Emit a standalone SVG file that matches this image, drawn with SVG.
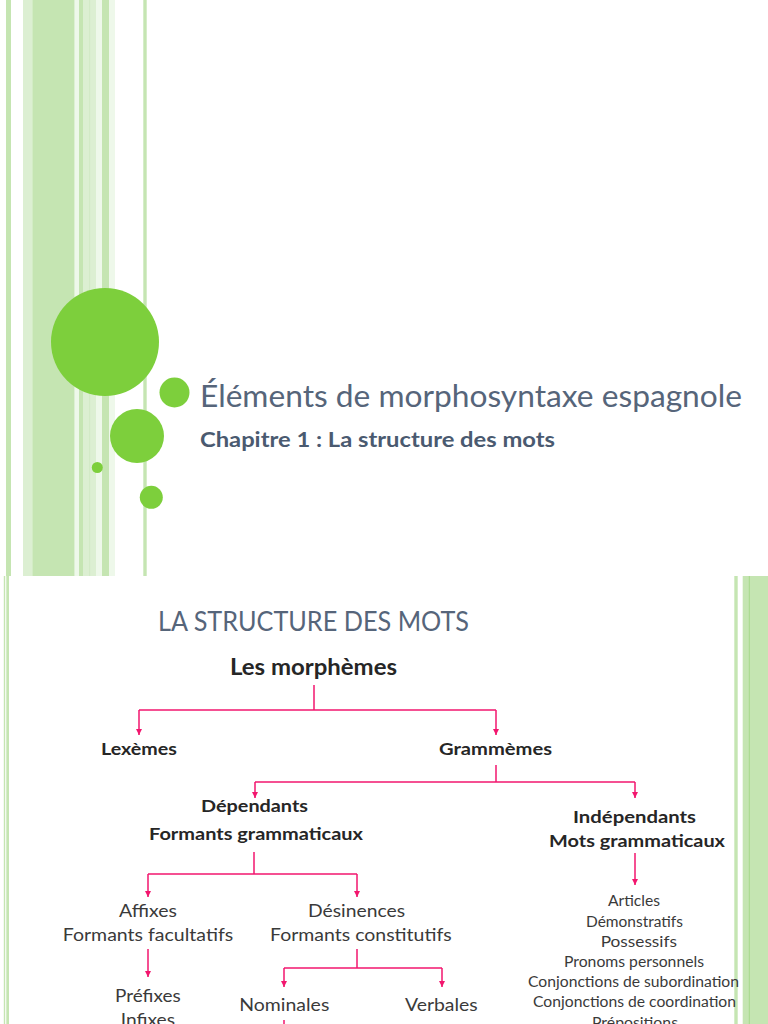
<svg xmlns="http://www.w3.org/2000/svg" width="768" height="1024" viewBox="0 0 768 1024">
<defs>
<style>
.g1{fill:#c5e5b2}
.g2{fill:#dcefd2}
.g3{fill:#eef8ea}
.dot{fill:#7dcf3c}
.title{font-family:Lato,"Open Sans","Liberation Sans",sans-serif;font-weight:400;fill:#56657a}
.sub{font-family:Lato,"Open Sans","Liberation Sans",sans-serif;font-weight:700;fill:#4a5a70}
.b{font-family:Lato,"Open Sans","Liberation Sans",sans-serif;font-weight:700;fill:#262626;font-size:17px}
.r{font-family:Lato,"Open Sans","Liberation Sans",sans-serif;font-weight:400;fill:#3a3a3a;font-size:17px}
.s{font-family:Lato,"Open Sans","Liberation Sans",sans-serif;font-weight:400;fill:#3a3a3a;font-size:14.5px}
.c{fill:none;stroke:#f2166e;stroke-width:1.5}
</style>
<marker id="ah" markerUnits="userSpaceOnUse" markerWidth="7" markerHeight="7" refX="6" refY="3" orient="auto">
<path d="M0,0 L6,3 L0,6 z" fill="#f2166e"/>
</marker>
</defs>
<rect width="768" height="1024" fill="#ffffff"/>
<g id="slide1-stripes">
<rect class="g1" x="6" y="0" width="5" height="576"/>
<rect class="g2" x="23" y="0" width="9.3" height="576"/>
<rect class="g1" x="32.3" y="0" width="42.4" height="576"/>
<rect class="g3" x="74.7" y="0" width="4.3" height="576"/>
<rect class="g1" x="79" y="0" width="4" height="576"/>
<rect class="g2" x="83" y="0" width="13" height="576"/>
<rect fill="#cfe8c2" x="89.3" y="0" width="0.8" height="576"/>
<rect class="g3" x="96" y="0" width="6" height="576"/>
<rect class="g1" x="102" y="0" width="7" height="576"/>
<rect class="g3" x="109" y="0" width="6" height="576"/>
<rect class="g1" x="143.3" y="0" width="3.4" height="576"/>
</g>
<g id="slide1-dots">
<circle class="dot" cx="105" cy="342" r="54"/>
<circle class="dot" cx="174.5" cy="392.5" r="15"/>
<circle class="dot" cx="137" cy="436" r="27"/>
<circle class="dot" cx="97.3" cy="467.5" r="5.5"/>
<circle class="dot" cx="151.3" cy="497.3" r="11.5"/>
</g>
<g id="slide1-title">
<text class="title" x="200" y="407" font-size="30" textLength="542" lengthAdjust="spacingAndGlyphs">Éléments de morphosyntaxe espagnole</text>
<text class="sub" x="200" y="447" font-size="20.5" textLength="355" lengthAdjust="spacingAndGlyphs">Chapitre 1 : La structure des mots</text>
</g>
<g id="slide2-stripes">
<rect class="g1" x="3.8" y="576" width="1.4" height="448"/>
<rect class="g1" x="6.3" y="576" width="2.7" height="448"/>
<rect class="g1" x="734.3" y="576" width="3.4" height="448"/>
<rect class="g1" x="742.7" y="576" width="25.3" height="448"/>
<rect fill="#a6d98a" x="748.8" y="576" width="1" height="448"/>
</g>
<g id="slide2-heading">
<text class="title" x="158" y="631" font-size="27" textLength="311" lengthAdjust="spacingAndGlyphs">LA STRUCTURE DES MOTS</text>
</g>
<g id="connectors">
<path class="c" d="M314,685 V710"/>
<path class="c" d="M139,710 H496"/>
<path class="c" d="M139,710 V735" marker-end="url(#ah)"/>
<path class="c" d="M496,710 V735" marker-end="url(#ah)"/>
<path class="c" d="M496,765 V782"/>
<path class="c" d="M255,782 H635"/>
<path class="c" d="M255,782 V798" marker-end="url(#ah)"/>
<path class="c" d="M635,782 V798" marker-end="url(#ah)"/>
<path class="c" d="M635,853 V885" marker-end="url(#ah)"/>
<path class="c" d="M254,852 V874"/>
<path class="c" d="M148,874 H357"/>
<path class="c" d="M148,874 V897" marker-end="url(#ah)"/>
<path class="c" d="M357,874 V897" marker-end="url(#ah)"/>
<path class="c" d="M148,949 V977" marker-end="url(#ah)"/>
<path class="c" d="M357,949 V968"/>
<path class="c" d="M284,968 H442"/>
<path class="c" d="M284,968 V987" marker-end="url(#ah)"/>
<path class="c" d="M442,968 V987" marker-end="url(#ah)"/>
<path class="c" d="M284,1020 V1026"/>
</g>
<g id="n-morphemes"><text class="b" x="230" y="675" style="font-size:22px" textLength="167" lengthAdjust="spacingAndGlyphs">Les morphèmes</text></g>
<g id="n-lexemes"><text class="b" x="101" y="755" textLength="76" lengthAdjust="spacingAndGlyphs">Lexèmes</text></g>
<g id="n-grammemes"><text class="b" x="439" y="755" textLength="113" lengthAdjust="spacingAndGlyphs">Grammèmes</text></g>
<g id="n-dependants">
<text class="b" x="201" y="812" textLength="107" lengthAdjust="spacingAndGlyphs">Dépendants</text>
<text class="b" x="149" y="840" textLength="214" lengthAdjust="spacingAndGlyphs">Formants grammaticaux</text>
</g>
<g id="n-independants">
<text class="b" x="573" y="822.5" textLength="123" lengthAdjust="spacingAndGlyphs">Indépendants</text>
<text class="b" x="549" y="846.5" textLength="176" lengthAdjust="spacingAndGlyphs">Mots grammaticaux</text>
</g>
<g id="n-affixes">
<text class="r" x="119" y="917" textLength="58" lengthAdjust="spacingAndGlyphs">Affixes</text>
<text class="r" x="62.7" y="940.5" textLength="170.6" lengthAdjust="spacingAndGlyphs">Formants facultatifs</text>
</g>
<g id="n-desinences">
<text class="r" x="308" y="917" textLength="97" lengthAdjust="spacingAndGlyphs">Désinences</text>
<text class="r" x="270" y="940.5" textLength="181.7" lengthAdjust="spacingAndGlyphs">Formants constitutifs</text>
</g>
<g id="n-prefixes">
<text class="r" x="115" y="1001.7" textLength="65.7" lengthAdjust="spacingAndGlyphs">Préfixes</text>
<text class="r" x="120.7" y="1026" textLength="54.3" lengthAdjust="spacingAndGlyphs">Infixes</text>
</g>
<g id="n-nominales"><text class="r" x="239.3" y="1010.7" textLength="90" lengthAdjust="spacingAndGlyphs">Nominales</text></g>
<g id="n-verbales"><text class="r" x="405" y="1010.7" textLength="72.7" lengthAdjust="spacingAndGlyphs">Verbales</text></g>
<g id="n-mots-list">
<text class="s" x="608" y="906" textLength="52" lengthAdjust="spacingAndGlyphs">Articles</text>
<text class="s" x="586" y="926.7" textLength="97" lengthAdjust="spacingAndGlyphs">Démonstratifs</text>
<text class="s" x="600.7" y="946.7" textLength="76.3" lengthAdjust="spacingAndGlyphs">Possessifs</text>
<text class="s" x="564" y="966.7" textLength="140" lengthAdjust="spacingAndGlyphs">Pronoms personnels</text>
<text class="s" x="528" y="987" textLength="211" lengthAdjust="spacingAndGlyphs">Conjonctions de subordination</text>
<text class="s" x="533" y="1007" textLength="203" lengthAdjust="spacingAndGlyphs">Conjonctions de coordination</text>
<text class="s" x="592" y="1027.5" textLength="86" lengthAdjust="spacingAndGlyphs">Prépositions</text>
</g>
</svg>
